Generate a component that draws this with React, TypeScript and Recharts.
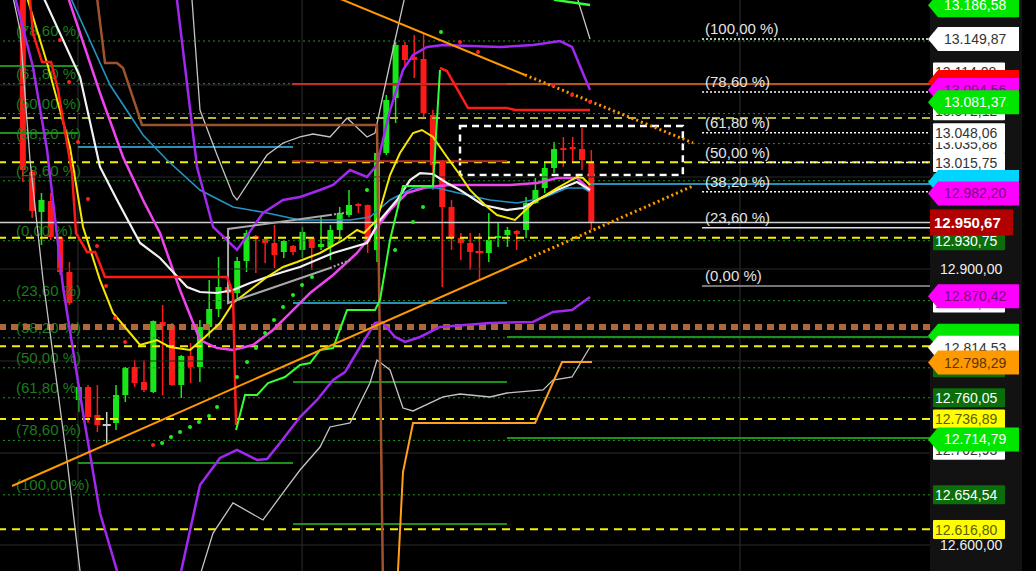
import React from 'react';
import { ComposedChart, Bar, Line, Scatter, XAxis, YAxis, ReferenceLine, ReferenceArea } from 'recharts';

const W = 1036;
const H = 571;
const AXIS_W = 106;
const PLOT_RIGHT = W - AXIS_W;
const X_DOMAIN: [number, number] = [-2.45, 97.34];
const Y_DOMAIN: [number, number] = [12571.74, 13192.39];

// ---------- candles ----------
const opens = [13200, 13005.4, 12962, 12973.9, 12934.8, 12896.7, 12757.6, 12771.7, 12741.3, 12730.4, 12732.6, 12763, 12793.5, 12777.2, 12766.3, 12842.4, 12839.1, 12773.9, 12805.4, 12793.5, 12837, 12856.5, 12880.4, 12873.9, 12908.7, 12935.9, 12932.6, 12928.3, 12918.5, 12925, 12920.7, 12933.7, 12923.9, 12923.9, 12942.4, 12958.7, 12970.7, 12969.6, 12920.7, 13026.1, 13085.9, 13143.5, 13130.4, 13128.3, 13067.4, 13016.3, 12967.4, 12933.7, 12928.3, 12918.5, 12917.4, 12933.7, 12937, 12941.3, 12942.4, 12971.7, 12988, 13009.8, 13031.5, 13032.6, 13030.4, 13015.2];
const highs = [13205, 13007.6, 12982.6, 12982.6, 12935.5, 12907.6, 12773.9, 12773.9, 12773.9, 12744.6, 12773.9, 12793.5, 12801.1, 12801.1, 12844, 12860.9, 12841.3, 12806.5, 12819.6, 12844.6, 12888, 12913, 12884.8, 12913, 12942.4, 12937, 12934.8, 12947.8, 12931.5, 12926.1, 12945.7, 12934.8, 12956.5, 12947.8, 12967.4, 12985.9, 12971.7, 12970, 13029, 13089.1, 13146.7, 13146.7, 13154.3, 13156.5, 13072.8, 13018.5, 12975, 12939.1, 12939.1, 12939.1, 12960.9, 12951.1, 12945.7, 12942.4, 12978.3, 12998.9, 13015.2, 13038, 13043.5, 13043.5, 13053.3, 13029.3];
const lows = [12994.6, 12955.4, 12926.1, 12931.5, 12893.5, 12860.9, 12744.6, 12732.6, 12722.8, 12710.9, 12725, 12755.4, 12771.7, 12766.3, 12765.2, 12763, 12773, 12759.8, 12776.1, 12777.2, 12826.1, 12847.8, 12871.7, 12866.3, 12896.7, 12895.7, 12906.5, 12901.1, 12912, 12915.2, 12912, 12898.9, 12920.7, 12909.8, 12931.5, 12956.5, 12960.9, 12917.4, 12907.6, 13023.9, 13058.7, 13118.5, 13107.6, 13065.2, 12985.9, 12880.4, 12920.7, 12909.8, 12898.9, 12888, 12907.6, 12923.9, 12923.9, 12920.7, 12933.7, 12971, 12982.6, 13004.3, 13010.9, 13015.2, 13007.6, 12942.4];
const closes = [13007.6, 12963, 12975, 12934.8, 12896.7, 12863, 12771.7, 12739.1, 12730.4, 12730.4, 12763, 12792.4, 12776.1, 12768.5, 12843.5, 12838, 12773.9, 12805.4, 12793.5, 12837, 12856.5, 12880.4, 12873.9, 12908.7, 12939.1, 12932.6, 12928.3, 12915.2, 12930.4, 12918.5, 12940.2, 12922.8, 12927.2, 12942.4, 12960.9, 12969.6, 12968.5, 12929.3, 13026.1, 13083.7, 13143.5, 13127.2, 13127.2, 13069.6, 13013, 12967.4, 12933.7, 12928.3, 12918.5, 12917.8, 12931.5, 12935.9, 12942.4, 12938, 12971.7, 12985.9, 13009.8, 13030.4, 13029.3, 13030.4, 13018.5, 12950.67];

// ---------- indicator lines: [barIndex, price] ----------
const yellowMA = [[0.3, 13200], [2.6, 13123.9], [5.06, 13032.6], [6.46, 12945.7], [8.28, 12888], [9.68, 12852.2], [12.58, 12817.4], [14.4, 12822.8], [15.79, 12815.2], [17.94, 12812], [19.55, 12826.1], [21.16, 12841.3], [22.55, 12863], [24.38, 12877.2], [26.2, 12891.3], [27.92, 12902.2], [29.42, 12907.6], [31.89, 12917.4], [34.36, 12931.5], [35.86, 12942.4], [36.61, 12939.1], [38, 12953.3], [39.4, 13002.2], [40.47, 13026.1], [41.87, 13047.8], [42.83, 13051.1], [44.01, 13043.5], [45.51, 13021.7], [46.91, 13002.2], [47.98, 12985.9], [49.59, 12969.6], [50.88, 12958.7], [52.81, 12953.3], [54.74, 12971.7], [57.32, 12988], [59.46, 13000], [60.11, 12998.9], [60.86, 12991.3]];
const whiteMA = [[2.0, 13200], [6.14, 13108.7], [8.28, 13010.9], [10.11, 12975], [12.58, 12928.3], [14.72, 12912], [17.62, 12880.4], [19.01, 12875], [20.84, 12873.9], [22.55, 12877.2], [24.38, 12884.8], [26.2, 12891.3], [27.92, 12896.7], [29.74, 12902.2], [33.29, 12917.4], [36.93, 12928.3], [38.33, 12953.3], [40.15, 12975], [41.55, 12996.7], [42.62, 13004.3], [44.01, 13003.3], [45.51, 12993.5], [46.91, 12985.9], [49.38, 12969.6], [51.95, 12964.1], [53.67, 12966.3], [55.17, 12975], [57.32, 12985.9], [59.46, 12994.6], [60.86, 12985.9]];
const magentaMA = [[4.7, 13200], [8.28, 13091.3], [10.75, 13021.7], [12.9, 12975], [14.72, 12939.1], [16.87, 12877.2], [19.01, 12822.8], [20.84, 12814.1], [22.55, 12812], [24.7, 12817.4], [26.84, 12833.7], [28.99, 12855.4], [30.82, 12873.9], [33.29, 12893.5], [35.86, 12917.4], [37.57, 12939.1], [39.4, 12964.1], [41.2, 12982.6], [43.37, 12989.1], [45.84, 12991.3], [52.27, 12991.3], [55.17, 12993.5], [57.32, 12998.9], [59.46, 12998.9], [60.86, 12985.9]];
const blueMA = [[4.9, 13200], [9.36, 13100], [12.9, 13045.7], [15.47, 13018.5], [19.01, 12985.9], [22.55, 12967.4], [26.2, 12960.9], [29.74, 12953.3], [35.11, 12953.3], [37.25, 12956.5], [39.4, 12975], [41.87, 12988], [44.44, 12988], [47.66, 12980.4], [50.13, 12975], [53.03, 12971.7], [55.82, 12977.2], [58.39, 12988], [60.11, 12988], [60.86, 12983.7]];
const bandUpper = [[16.45, 13200], [18.69, 13010.9], [20.41, 12945.7], [22.98, 12920.7], [25.77, 12960.9], [27.92, 12975], [29.74, 12978.3], [31.89, 12985.9], [33.29, 12991.3], [35.11, 13007.6], [36.93, 13000], [38, 13013], [39.4, 13072.8], [40.79, 13116.3], [41.87, 13132.6], [43.37, 13141.3], [45.09, 13143.5], [51.2, 13141.3], [54.74, 13143.5], [57.64, 13147.8], [58.93, 13141.3], [60.86, 13094.6]];
const bandLower = [[-0.95, 13200], [1.09, 13119.6], [2.6, 13029.3], [4.31, 12880.4], [6.46, 12743.5], [8.28, 12634.8], [10.11, 12571.7], [10.5, 12530], [16.3, 12530], [16.54, 12551], [19.01, 12665.2], [21.16, 12694.6], [22.98, 12703.3], [25.13, 12692.4], [26.2, 12693.5], [27.59, 12710.9], [29.74, 12739.1], [31.57, 12757.6], [33.29, 12779.3], [34.57, 12788], [36.18, 12815.2], [37.79, 12841.3], [38.54, 12842.4], [39.94, 12826.1], [41.01, 12820.7], [42.62, 12826.1], [44.76, 12837], [50.13, 12841.3], [54.74, 12842.4], [56.89, 12853.3], [58.93, 12855.4], [60.86, 12869.6]];
const grayUpper = [[18.1, 13200], [19.01, 13072.8], [20.84, 13023.9], [22.55, 12980.4], [22.98, 12975], [24.38, 12996.7], [26.2, 13023.9], [27.92, 13037], [29.74, 13043.5], [31.14, 13046.7], [32.96, 13043.5], [34.79, 13064.1], [36.93, 13043.5], [37.79, 13047.8], [38.54, 13083.7], [39.94, 13148.9], [40.9, 13192], [41.2, 13230], [59.3, 13230], [59.57, 13192], [60.86, 13150]];
const grayLower = [[-1.15, 13200], [-0.3, 13159.8], [0.77, 13018.5], [2.17, 12888], [4.74, 12692.4], [6.14, 12571.7], [6.4, 12530], [18.6, 12530], [18.8, 12560], [20.41, 12613], [22.55, 12645.7], [25.77, 12627.2], [27.59, 12652.2], [29.74, 12681.5], [31.89, 12706.5], [32.96, 12728.3], [35.11, 12732.6], [37.25, 12776.1], [38, 12801.1], [39.4, 12790.2], [40.79, 12748.9], [41.87, 12745.7], [45.09, 12760.9], [46.91, 12764.1], [50.13, 12760.9], [51.95, 12765.2], [55.82, 12768.5], [56.89, 12779.3], [58.93, 12782.6], [60.86, 12815.2]];
const redStopA = [[0.7, 13200], [1.09, 13156.5], [2.06, 13125], [3.03, 13125], [3.78, 13094.6], [5.28, 13004.3], [5.71, 12939.1], [6.89, 12918.5], [7.75, 12918.5], [8.82, 12891.3], [21.91, 12891.3], [22.55, 12873.9], [22.88, 12730.4]];
const greenStop = [[22.88, 12725], [23.84, 12763], [25.13, 12763], [26.31, 12776.1], [28.13, 12782.6], [29.74, 12795.7], [30.82, 12797.8], [31.89, 12812], [33.29, 12814.1], [34.79, 12855.4], [37.79, 12855.4], [38.33, 12866.3], [39.4, 12931.5], [40.79, 12990.2], [44.01, 12990.2], [44.76, 13116.3]];
const redStopB = [[44.76, 13118.5], [45.51, 13115.2], [47.77, 13075], [51.95, 13075], [52.81, 13072.8], [60.86, 13072.8]];
const greenStopTop = [[56.9, 13200], [57.1, 13192.4], [60.86, 13187]];
const brownStop = [[7.9, 13200], [8.82, 13123.9], [10.11, 13123.9], [10.75, 13118.5], [12.79, 13056.5], [38, 13056.5], [38.65, 12551]];
const orangeStop = [[40.15, 12551], [40.79, 12679.3], [41.87, 12732.6], [54.96, 12732.6], [57.86, 12798.9], [61.07, 12798.9]];
const trendDownSolid = [[33.9, 13194.3], [53.88, 13110.9]];
const trendDownDotted = [[53.88, 13110.9], [71.91, 13037]];
const trendUpSolid = [[-1.16, 12664.1], [53.88, 12909.8]];
const trendUpDotted = [[53.88, 12909.8], [71.91, 12990.2]];
const channelSolid = [[32.96, 12958.7], [22.02, 12943.5], [22.02, 12863], [32.96, 12901.1]];
const channelUpperDotted = [[32.96, 12958.7], [35.11, 12962]];
const channelLowerDotted = [[32.96, 12901.1], [35.11, 12909.8]];
const sarRed = [[3.99, 13148.9], [4.96, 13103.3], [5.92, 13038], [6.99, 12976.1], [7.96, 12925], [8.93, 12881.5], [9.89, 12846.7], [10.97, 12820.7], [13.97, 12708.7], [46.91, 13146.7], [48.84, 13135.9], [56.89, 13100], [58.93, 13089.1], [60.86, 13081.5]];
const sarGreen = [[14.94, 12710.9], [15.9, 12717.4], [16.87, 12722.8], [17.94, 12728.3], [18.9, 12733.7], [19.98, 12740.2], [20.84, 12750], [22.98, 12782.6], [24.06, 12798.9], [25.02, 12814.1], [25.99, 12830.4], [26.95, 12844.6], [27.92, 12858.7], [28.99, 12871.7], [29.96, 12882.6], [31.03, 12891.3], [36.93, 12985.9], [39.94, 12920.7], [41.87, 12951.1], [42.94, 12967.4], [44.87, 13157.6]];

// ---------- horizontal levels ----------
const gridPrices = [12600, 12700, 12800, 12900, 13000, 13100];
const gridBars = [5.92, 29.96, 76.95];
const greenFibLevels = [13147.8, 13101.4, 13068.9, 13036.3, 12995.9, 12930.75, 12865.6, 12825.2, 12792.6, 12760.05, 12713.7, 12654.54];
const greenFibTexts = ['(78,60 %)', '(61,80 %)', '(50,00 %)', '(38,20 %)', '(23,60 %)', '(0,00 %)', '(23,60 %)', '(38,20 %)', '(50,00 %)', '(61,80 %)', '(78,60 %)', '(100,00 %)'];
const whiteFibLevels = [13149.87, 13092.5, 13048.06, 13015.75, 12984.1];
const whiteFibTexts = ['(100,00 %)', '(78,60 %)', '(61,80 %)', '(50,00 %)', '(38,20 %)'];
const whiteFibSolidLevels = [12944.9, 12881.63];
const whiteFibSolidTexts = ['(23,60 %)', '(0,00 %)'];
const fibStartBar = 72.88;
const yellowDashLevels = [13064, 13016, 12934, 12816, 12737, 12617];
const brownDotLevel = 12837;
const lastCloseLevel = 12950.67;
const greenSegments = [[13120.7, -2.45, 5.92], [13047.8, -2.45, 5.92], [12689.1, 5.92, 28.99], [12777.2, 28.99, 51.95], [12622.8, 28.99, 51.95], [12826.1, 51.95, 97.34], [12716.3, 51.95, 97.34]];
const blueSegments = [[13032.6, 5.92, 28.99], [12863, 28.99, 51.95], [12992.4, 60.86, 97.34]];
const redSegments = [[13101, 28.88, 51.95], [13017, 28.88, 51.95]];
const rustSegments = [[13101, 51.95, 97.34]];
const boxBars = [46.91, 70.82];
const boxPrices = [13002.2, 13055.4];

// ---------- right price tags ----------
const tagValues = [13114.08, 13103.2, 13094.56, 13072.12, 13081.37, 13149.87, 13186.58, 13035.88, 13048.06, 13015.75, 12993.8, 12994.6, 12982.2, 12930.75, 12950.67, 12900, 12863.08, 12870.42, 12827.4, 12814.53, 12792.6, 12798.29, 12760.05, 12702.93, 12736.89, 12714.79, 12654.54, 12616.8, 12600];
const tagKinds = ['white', 'redBlank', 'magenta', 'white', 'green', 'whiteArrow', 'green', 'white', 'white', 'white', 'dkgreenBlank', 'cyanBlank', 'magenta', 'dkgreen', 'darkred', 'plain', 'white', 'magenta', 'greenBlank', 'whiteArrow', 'dkgreenBlank', 'orange', 'dkgreen', 'white', 'yellow', 'green', 'dkgreen', 'yellow', 'plain'];

const TAG_STYLE: Record<string, { shape: string; fill?: string; text?: string; bold?: boolean }> = {
  green: { shape: 'arrow', fill: '#00e600', text: '#ffffff' },
  greenBlank: { shape: 'arrow', fill: '#00e600' },
  whiteArrow: { shape: 'arrow', fill: '#ffffff', text: '#333333' },
  white: { shape: 'rect', fill: '#ffffff', text: '#333333' },
  redBlank: { shape: 'arrow', fill: '#ff0000' },
  magenta: { shape: 'arrow', fill: '#ff00ff', text: '#7a0a7a' },
  cyanBlank: { shape: 'arrow', fill: '#00d4ff' },
  darkred: { shape: 'box', fill: '#b00000', text: '#ffffff', bold: true },
  dkgreen: { shape: 'rect', fill: '#0b6e0b', text: '#ffffff' },
  dkgreenBlank: { shape: 'rect', fill: '#0b6e0b' },
  orange: { shape: 'arrow', fill: '#ff9900', text: '#5a3500' },
  yellow: { shape: 'rect', fill: '#ffff00', text: '#5c5c00' },
  plain: { shape: 'none', text: '#f0f0f0' },
};

const FONT = '"Liberation Sans", Arial, sans-serif';
const GREEN = '#19e619';
const RED = '#ff1a1a';

const fmt = (v: number) => {
  const [intPart, dec] = v.toFixed(2).split('.');
  return `${intPart.replace(/\B(?=(\d{3})+(?!\d))/g, '.')},${dec}`;
};

const pts = (a: number[][]) => a.map(([i, p]) => ({ i, p }));

const candles = opens.map((o, i) => ({ i, o, h: highs[i], l: lows[i], c: closes[i] }));

const Candle = (props: any) => {
  const { x, y, width, height, payload } = props;
  if (payload == null || height == null) return null;
  const { o, h, l, c } = payload;
  const cx = x + width / 2;
  const k = height / (h - l || 1);
  const yO = y + (h - o) * k;
  const yC = y + (h - c) * k;
  const color = c > o ? GREEN : c < o ? RED : '#cccccc';
  const top = Math.min(yO, yC);
  const bh = Math.max(2, Math.abs(yO - yC));
  const doji = Math.abs(yO - yC) < 2;
  return (
    <g>
      <line x1={cx} x2={cx} y1={y} y2={y + height} stroke={color} strokeWidth={1.5} />
      {doji ? (
        <rect x={cx - 4} y={top - 1} width={8} height={2} fill={color} />
      ) : (
        <rect x={cx - 3} y={top} width={6} height={bh} fill={color} />
      )}
    </g>
  );
};

const kindByValue = new Map<number, string>(tagValues.map((v, i) => [v, tagKinds[i]]));

const AxisTag = (props: any) => {
  const { y, payload } = props;
  const v = payload?.value;
  const kind = kindByValue.get(v) || 'plain';
  const s = TAG_STYLE[kind];
  const label = fmt(v);
  const L = PLOT_RIGHT;
  if (s.shape === 'arrow') {
    const h = 12;
    return (
      <g>
        <polygon points={`${L - 2},${y} ${L + 8},${y - h} ${L + 89},${y - h} ${L + 89},${y + h} ${L + 8},${y + h}`} fill={s.fill} />
        {s.text && <text x={L + 14} y={y + 5} fill={s.text} fontSize={14} fontFamily={FONT}>{label}</text>}
      </g>
    );
  }
  if (s.shape === 'rect') {
    return (
      <g>
        <rect x={L + 3} y={y - 9.5} width={72} height={19} fill={s.fill} rx={1} />
        {s.text && <text x={L + 5} y={y + 5} fill={s.text} fontSize={14} fontFamily={FONT}>{label}</text>}
      </g>
    );
  }
  if (s.shape === 'box') {
    return (
      <g>
        <rect x={L} y={y - 13} width={83} height={26} fill={s.fill} />
        <text x={L + 4} y={y + 5.5} fill={s.text} fontSize={15} fontWeight="bold" fontFamily={FONT}>{label}</text>
      </g>
    );
  }
  return (
    <text x={L + 10} y={y + 5} fill={s.text} fontSize={14} fontFamily={FONT}>{label}</text>
  );
};

const fibLabel = (text: string, color: string, dx: number, size: number) => (props: any) => {
  const vb = props?.viewBox;
  if (!vb) return null;
  return (
    <text x={vb.x + dx} y={vb.y - 5} fill={color} fontSize={size} fontFamily={FONT}>
      {text}
    </text>
  );
};

const lineProps = { isAnimationActive: false, dot: false, activeDot: false, type: 'linear' as const, dataKey: 'p', legendType: 'none' as const };

export default function App() {
  return (
    <div style={{ position: 'absolute', left: 0, top: 0, width: W, height: H, background: '#000', overflow: 'hidden' }}>
      <div style={{ position: 'absolute', left: PLOT_RIGHT, top: 0, width: 92, height: H, background: '#121212' }} />
      <div style={{ position: 'absolute', left: 0, top: 0 }}>
        <ComposedChart width={W} height={H} data={candles} margin={{ top: 0, right: 0, bottom: 0, left: 0 }}>
          <XAxis dataKey="i" type="number" domain={X_DOMAIN} allowDataOverflow hide />
          <YAxis
            orientation="right"
            width={AXIS_W}
            type="number"
            domain={Y_DOMAIN}
            allowDataOverflow
            ticks={tagValues}
            interval={0}
            axisLine={false}
            tickLine={false}
            tick={<AxisTag />}
          />

          {gridPrices.map((p) => (
            <ReferenceLine key={`g${p}`} y={p} stroke="#2a2a2a" strokeWidth={1} />
          ))}
          {gridBars.map((b) => (
            <ReferenceLine key={`gb${b}`} x={b} stroke="#2e2e2e" strokeWidth={1} />
          ))}

          {greenFibLevels.map((p, k) => (
            <ReferenceLine
              key={`gf${k}`}
              y={p}
              stroke="#1f9a1f"
              strokeWidth={1}
              strokeDasharray="2 3"
              label={fibLabel(greenFibTexts[k], '#1e7b1e', 16, 15)}
            />
          ))}

          {yellowDashLevels.map((p, k) => (
            <ReferenceLine key={`yd${k}`} y={p} stroke={k === 0 ? '#b4b43a' : '#f2f200'} strokeWidth={2} strokeDasharray="8 6" />
          ))}
          <ReferenceLine y={brownDotLevel} stroke="#b0683a" strokeWidth={6} strokeDasharray="7 5" />
          <ReferenceLine y={lastCloseLevel} stroke="#d0d0d0" strokeWidth={1.5} />

          {greenSegments.map(([p, a, b], k) => (
            <ReferenceLine key={`gs${k}`} segment={[{ x: a, y: p }, { x: b, y: p }]} stroke="#1c8f1c" strokeWidth={2} ifOverflow="hidden" />
          ))}
          {blueSegments.map(([p, a, b], k) => (
            <ReferenceLine key={`bs${k}`} segment={[{ x: a, y: p }, { x: b, y: p }]} stroke="#2a8fb8" strokeWidth={2} ifOverflow="hidden" />
          ))}
          {redSegments.map(([p, a, b], k) => (
            <ReferenceLine key={`rs${k}`} segment={[{ x: a, y: p }, { x: b, y: p }]} stroke="#c0302a" strokeWidth={2} ifOverflow="hidden" />
          ))}
          {rustSegments.map(([p, a, b], k) => (
            <ReferenceLine key={`us${k}`} segment={[{ x: a, y: p }, { x: b, y: p }]} stroke="#b5561f" strokeWidth={2} ifOverflow="hidden" />
          ))}

          {whiteFibLevels.map((p, k) => (
            <ReferenceLine
              key={`wf${k}`}
              segment={[{ x: fibStartBar, y: p }, { x: X_DOMAIN[1], y: p }]}
              stroke="#ffffff"
              strokeWidth={1.5}
              strokeDasharray="2 2"
              ifOverflow="hidden"
              label={fibLabel(whiteFibTexts[k], '#e4e4e4', 3, 15)}
            />
          ))}
          {whiteFibSolidLevels.map((p, k) => (
            <ReferenceLine
              key={`wfs${k}`}
              segment={[{ x: fibStartBar, y: p }, { x: X_DOMAIN[1], y: p }]}
              stroke={k === 0 ? '#e0e0e0' : '#9a9a9a'}
              strokeWidth={1.5}
              ifOverflow="hidden"
              label={fibLabel(whiteFibSolidTexts[k], '#e4e4e4', 3, 15)}
            />
          ))}

          <Line {...lineProps} data={pts(grayLower)} stroke="#c4c4c4" strokeWidth={1.3} />
          <Line {...lineProps} data={pts(grayUpper)} stroke="#c4c4c4" strokeWidth={1.3} />
          <Line {...lineProps} data={pts(blueMA)} stroke="#2494c4" strokeWidth={1.6} />
          <Line {...lineProps} data={pts(bandLower)} stroke="#a128f0" strokeWidth={2.5} />
          <Line {...lineProps} data={pts(bandUpper)} stroke="#a128f0" strokeWidth={2.5} />
          <Line {...lineProps} data={pts(magentaMA)} stroke="#ee44ee" strokeWidth={2.5} />
          <Line {...lineProps} data={pts(whiteMA)} stroke="#f2f2f2" strokeWidth={2.2} />
          <Line {...lineProps} data={pts(yellowMA)} stroke="#f5e800" strokeWidth={2} />
          <Line {...lineProps} data={pts(channelSolid)} stroke="#a8a8a8" strokeWidth={2} />
          <Line {...lineProps} data={pts(channelUpperDotted)} stroke="#a8a8a8" strokeWidth={2} strokeDasharray="2 2" />
          <Line {...lineProps} data={pts(channelLowerDotted)} stroke="#a8a8a8" strokeWidth={2} strokeDasharray="2 2" />

          <Bar dataKey={(d: any) => [d.l, d.h]} barSize={6} shape={<Candle />} isAnimationActive={false} legendType="none" />

          <Line {...lineProps} data={pts(brownStop)} stroke="#a0522d" strokeWidth={2.5} />
          <Line {...lineProps} data={pts(redStopA)} stroke="#ff1a1a" strokeWidth={2.5} />
          <Line {...lineProps} data={pts(redStopB)} stroke="#ff1a1a" strokeWidth={2.5} />
          <Line {...lineProps} data={pts(greenStop)} stroke="#33ff33" strokeWidth={2} />
          <Line {...lineProps} data={pts(greenStopTop)} stroke="#33ff33" strokeWidth={2.5} />
          <Line {...lineProps} data={pts(orangeStop)} stroke="#ff9f1a" strokeWidth={2} />
          <Line {...lineProps} data={pts(trendDownSolid)} stroke="#ff9900" strokeWidth={2} />
          <Line {...lineProps} data={pts(trendDownDotted)} stroke="#ff9900" strokeWidth={3} strokeDasharray="2 3" />
          <Line {...lineProps} data={pts(trendUpSolid)} stroke="#ff9900" strokeWidth={2} />
          <Line {...lineProps} data={pts(trendUpDotted)} stroke="#ff9900" strokeWidth={3} strokeDasharray="2 3" />

          <Scatter data={pts(sarRed)} dataKey="p" isAnimationActive={false} legendType="none"
            shape={(p: any) => <circle cx={p.cx} cy={p.cy} r={2} fill="#ff2020" />} />
          <Scatter data={pts(sarGreen)} dataKey="p" isAnimationActive={false} legendType="none"
            shape={(p: any) => <circle cx={p.cx} cy={p.cy} r={2} fill="#22ee22" />} />

          <ReferenceArea
            x1={boxBars[0]}
            x2={boxBars[1]}
            y1={boxPrices[0]}
            y2={boxPrices[1]}
            fill="none"
            fillOpacity={0}
            stroke="#ffffff"
            strokeWidth={2.5}
            strokeDasharray="7 5"
            ifOverflow="hidden"
          />
        </ComposedChart>
      </div>
    </div>
  );
}
